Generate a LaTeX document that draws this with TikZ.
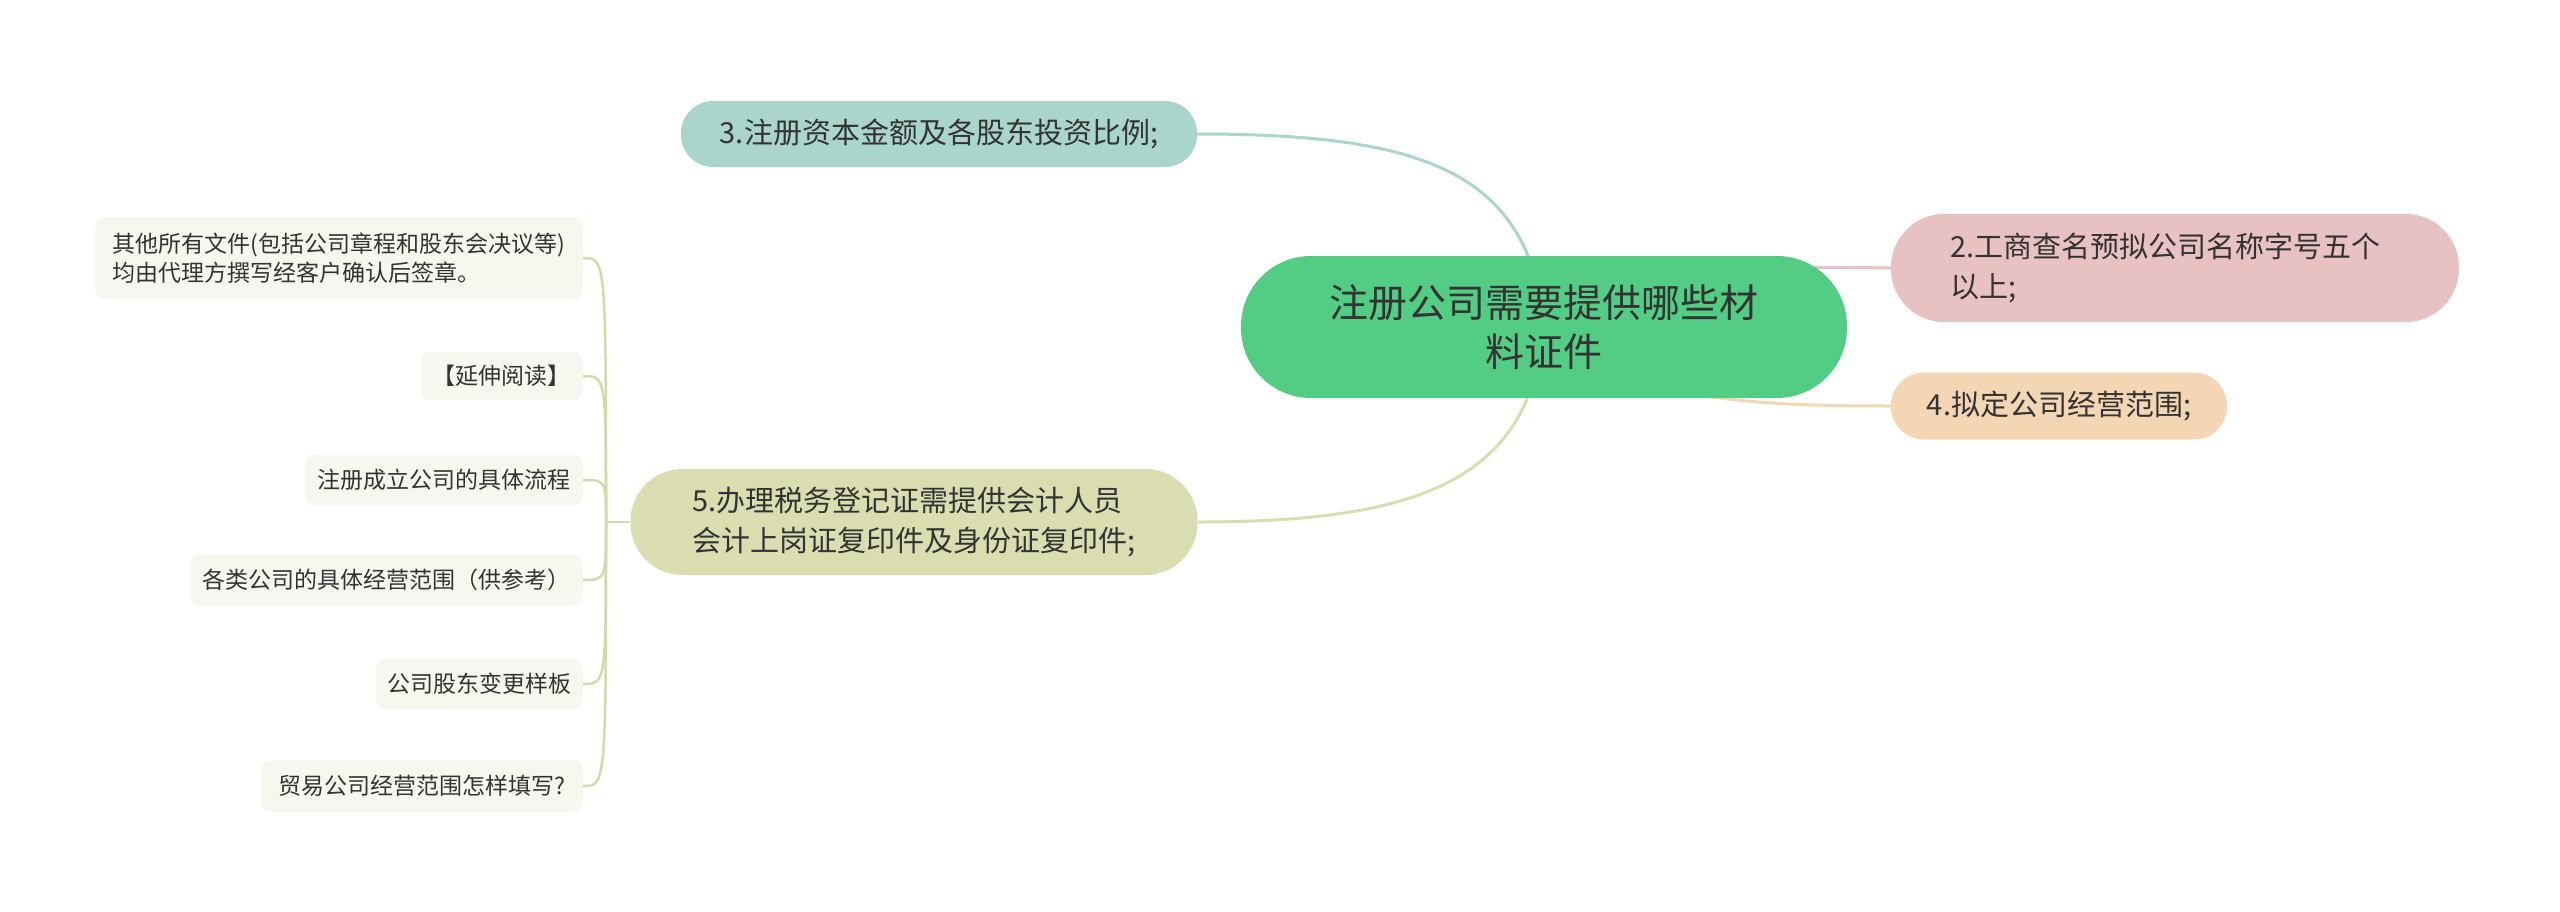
\documentclass[tikz,border=0pt]{standalone}
\usepackage{fontspec}
\setmainfont{Noto Sans CJK SC}
\definecolor{rootc}{HTML}{52CD83}
\definecolor{cthree}{HTML}{A9D5CD}
\definecolor{ctwo}{HTML}{E8C2C3}
\definecolor{cfour}{HTML}{F4D6B4}
\definecolor{cfive}{HTML}{D9DDAF}
\definecolor{leafc}{HTML}{F6F7EF}
\definecolor{leafline}{HTML}{D3D9A8}
\definecolor{textc}{HTML}{333333}
\pgfdeclarelayer{paper}
\pgfdeclarelayer{links}
\pgfsetlayers{paper,links,main}
\tikzset{
  rootbox/.style={fill=rootc, rounded corners=70pt, minimum width=606pt, minimum height=142pt,
    inner sep=0pt, text=textc, font=\fontsize{39}{49}\selectfont, align=center},
  topicbox/.style={rounded corners=#1, inner sep=0pt, text=textc,
    font=\fontsize{29}{40}\selectfont, align=left},
  leafbox/.style={fill=leafc, rounded corners=10pt, inner sep=0pt, text=textc,
    font=\fontsize{23}{29}\selectfont, align=left, anchor=east},
  link/.style={line width=3pt},
  leaflink/.style={line width=2.5pt, leafline}
}
\begin{document}
\begin{tikzpicture}[x=1pt,y=-1pt]
\begin{pgfonlayer}{paper}
\fill[white] (0,0) rectangle (2560,911);
\end{pgfonlayer}
\useasboundingbox (0,0) rectangle (2560,911);
% main nodes
\node[rootbox] (root) at (1544,327) {注册公司需要提供哪些材\\料证件};
\node[topicbox=32pt, fill=cthree, minimum width=516pt, minimum height=66pt] (n3) at (939,134) {3.注册资本金额及各股东投资比例;};
\node[topicbox=53pt, fill=ctwo, minimum width=568pt, minimum height=108pt, text width=450pt] (n2) at (2175,268) {2.工商查名预拟公司名称字号五个\\以上;};
\node[topicbox=33pt, fill=cfour, minimum width=336pt, minimum height=67pt] (n4) at (2059,406) {4.拟定公司经营范围;};
\node[topicbox=52pt, fill=cfive, minimum width=567pt, minimum height=106pt] (n5) at (914,522) {5.办理税务登记证需提供会计人员\\会计上岗证复印件及身份证复印件;};
% leaves
\node[leafbox, minimum width=488pt, minimum height=82pt] (l1) at (583,258) {其他所有文件(包括公司章程和股东会决议等)\\均由代理方撰写经客户确认后签章。};
\node[leafbox, minimum width=162pt, minimum height=48pt] (l2) at (583,376) {【延伸阅读】};
\node[leafbox, minimum width=278pt, minimum height=50pt] (l3) at (583,480) {注册成立公司的具体流程};
\node[leafbox, minimum width=392pt, minimum height=51pt] (l4) at (583,580) {各类公司的具体经营范围（供参考）};
\node[leafbox, minimum width=207pt, minimum height=50pt] (l5) at (583,684) {公司股东变更样板};
\node[leafbox, minimum width=322pt, minimum height=51pt] (l6) at (583,786) {贸易公司经营范围怎样填写?};
\coordinate (j) at (606,522);
% connectors
\begin{pgfonlayer}{links}
\draw[link, cthree] (root.center) .. controls (1530,170) and (1420,134) .. (n3.east);
\draw[link, cfive] (root.center) .. controls (1530,480) and (1420,522) .. (n5.east);
\draw[link, ctwo] (root.center) .. controls (1650,266) and (1750,266) .. (n2.west);
\draw[link, cfour] (root.center) .. controls (1620,400) and (1750,406) .. (n4.west);
\draw[leaflink] (n5.west) -- (j);
\foreach \l in {l1,l2,l3,l4,l5,l6}{
  \draw[leaflink] (j) .. controls (j |- \l.east) and (j |- \l.east) .. (\l.east);
}
\end{pgfonlayer}
\end{tikzpicture}
\end{document}
